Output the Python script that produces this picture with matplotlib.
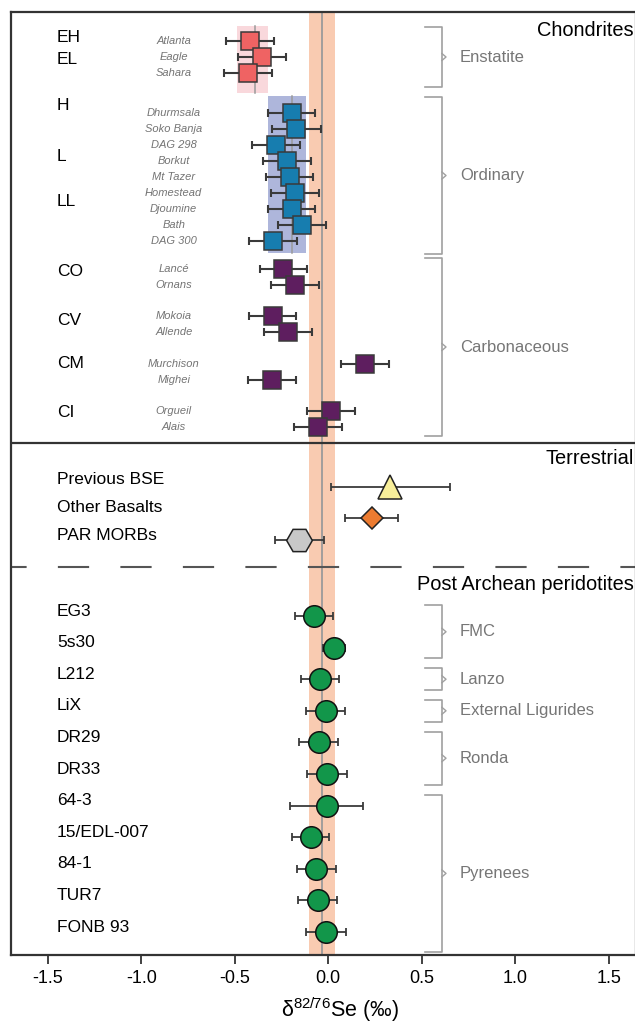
import numpy as np
import matplotlib
matplotlib.use("Agg")
import matplotlib.pyplot as plt

plt.rcParams['font.family'] = ['Liberation Sans', 'DejaVu Sans']
plt.rcParams['axes.unicode_minus'] = False
plt.rcParams['mathtext.fontset'] = 'custom'
plt.rcParams['mathtext.rm'] = 'Liberation Sans'

# --- data (d82/76Se, permil, value and 2sd) ---
enstatite_names = ['Atlanta', 'Eagle', 'Sahara']
enstatite_se = [-0.42, -0.355, -0.43]
enstatite_err = [0.128, 0.127, 0.128]

ordinary_names = ['Dhurmsala', 'Soko Banja', 'DAG 298', 'Borkut', 'Mt Tazer',
                  'Homestead', 'Djoumine', 'Bath', 'DAG 300']
ordinary_se = [-0.195, -0.17, -0.28, -0.22, -0.207, -0.178, -0.195, -0.14, -0.295]
ordinary_err = [0.126, 0.129, 0.128, 0.128, 0.127, 0.129, 0.127, 0.127, 0.127]

carbonaceous_names = ['Lancé', 'Ornans', 'Mokoia', 'Allende',
                      'Murchison', 'Mighei', 'Orgueil', 'Alais']
carbonaceous_se = [-0.24, -0.178, -0.296, -0.215, 0.195, -0.30, 0.016, -0.053]
carbonaceous_err = [0.127, 0.129, 0.126, 0.128, 0.128, 0.128, 0.129, 0.128]

class_labels = ['EH', 'EL', 'H', 'L', 'LL', 'CO', 'CV', 'CM', 'CI']

terrestrial_names = ['Previous BSE', 'Other Basalts', 'PAR MORBs']
terrestrial_se = [0.332, 0.232, -0.155]
terrestrial_err = [0.318, 0.14, 0.13]

peridotite_names = ['EG3', '5s30', 'L212', 'LiX', 'DR29', 'DR33', '64-3',
                    '15/EDL-007', '84-1', 'TUR7', 'FONB 93']
peridotite_se = [-0.076, 0.03, -0.044, -0.014, -0.05, -0.006, -0.008,
                 -0.094, -0.063, -0.056, -0.012]
peridotite_err = [0.10, 0.06, 0.103, 0.105, 0.105, 0.105, 0.196,
                  0.10, 0.105, 0.105, 0.107]
peridotite_groups = ['FMC', 'Lanzo', 'External Ligurides', 'Ronda', 'Pyrenees']
peridotite_group_sizes = [2, 1, 1, 2, 5]

# reference bands (mean and range)
bse_mean, bse_band = -0.035, (-0.103, 0.036)
enstatite_mean, enstatite_band = -0.393, (-0.488, -0.322)
ordinary_mean, ordinary_band = -0.192, (-0.322, -0.119)

# --- layout (vertical positions, arbitrary units growing downwards) ---
ROW = 16
chond_gaps = [0, 0, 0, 24, 0, 0, 0, 0, 0, 0, 0, 0, 12, 0, 15, 0, 16, 0, 15, 0]
chond_y = 41 + np.cumsum([0] + [ROW + g for g in chond_gaps[1:]])
class_rows = [-0.25, 1.15, 2.8, 5.7, 8.55, 12.15, 14.3, 16.0, 18.1]
class_y = np.interp(class_rows, np.arange(len(chond_y)), chond_y,
                    left=chond_y[0] - 4)
terr_y = 480 + 27.5 * np.arange(3)
perid_y = 616 + 31.6 * np.arange(len(peridotite_names))

n_e, n_o = len(enstatite_names), len(ordinary_names)
ens_y = chond_y[:n_e]
ord_y = chond_y[n_e:n_e + n_o]
carb_y = chond_y[n_e + n_o:]

fig = plt.figure(figsize=(6.35, 10.24), dpi=100)
ax = fig.add_axes([10.7 / 635, 69 / 1024, 625.3 / 635, 943.5 / 1024])
ax.set_xlim(-1.698, 1.646)
ax.set_ylim(955, 11.5)

# background bands
ax.axvspan(*bse_band, color='#F9CBB1', lw=0, zorder=0)
ax.axvline(bse_mean, color='#9a9a9a', lw=1.3, zorder=1)
ax.fill_betweenx([ens_y[0] - 15, ens_y[-1] + 20], *enstatite_band,
                 color='#F9D8DC', lw=0, zorder=0)
ax.plot([enstatite_mean] * 2, [ens_y[0] - 15, ens_y[-1] + 20], color='#9a9a9a', lw=1.1, zorder=1)
ax.fill_betweenx([ord_y[0] - 17, ord_y[-1] + 12], *ordinary_band,
                 color='#AEB6DB', lw=0, zorder=0)
ax.plot([ordinary_mean] * 2, [ord_y[0] - 17, ord_y[-1] + 12], color='#9a9a9a', lw=1.1, zorder=1)

# section separators
ax.axhline(443, color='#333333', lw=1.6, zorder=2)
ax.axhline(567, color='#555555', lw=1.5, ls=(7.5, (15, 15)), zorder=2)


def draw_points(x, y, err, marker, ms, color, edge='#3a3a3a', lw=1.5, cap=2.6):
    ax.errorbar(x, y, xerr=err, fmt='none', ecolor='#3a3a3a', elinewidth=lw,
                capsize=cap, capthick=lw, zorder=3)
    ax.plot(x, y, ls='none', marker=marker, ms=ms, mfc=color, mec=edge,
            mew=1.1, zorder=4)


draw_points(enstatite_se, ens_y, enstatite_err, 's', 13.5, '#EF6363')
draw_points(ordinary_se, ord_y, ordinary_err, 's', 13.5, '#177DAF')
draw_points(carbonaceous_se, carb_y, carbonaceous_err, 's', 13.5, '#5E1E5F')

terr_markers = [('^', 17, '#F8EF9A'), ('D', 11.7, '#EC7B30'), ('H', 18.5, '#C8C8C8')]
terr_marker_y = terr_y + np.array([7, 10, 5])
for i, (m, ms, c) in enumerate(terr_markers):
    draw_points([terrestrial_se[i]], [terr_marker_y[i]], [terrestrial_err[i]],
                m, ms, c, edge='#222222', lw=1.3, cap=3)

draw_points(peridotite_se, perid_y, peridotite_err, 'o', 15.5, '#12964A',
            edge='#111111', lw=1.3, cap=3)

# labels on the left
LEFT_X = -1.45
for lab, y in zip(class_labels, class_y):
    ax.text(LEFT_X, y, lab, fontsize=12.5, va='center', ha='left')
chond_names = enstatite_names + ordinary_names + carbonaceous_names
for name, y in zip(chond_names, chond_y):
    ax.text(-0.826, y, name, fontsize=8.0, style='italic', color='#747474',
            va='center', ha='center')
for name, y in zip(terrestrial_names, terr_y):
    ax.text(LEFT_X, y, name, fontsize=12.5, va='center', ha='left')
for name, y in zip(peridotite_names, perid_y - 5):
    ax.text(LEFT_X, y, name, fontsize=12.5, va='center', ha='left')

# section titles
ax.text(1.632, 31, 'Chondrites', fontsize=14.4, ha='right', va='center')
ax.text(1.632, 459, 'Terrestrial', fontsize=14.4, ha='right', va='center')
ax.text(1.632, 584, 'Post Archean peridotites', fontsize=14.4, ha='right', va='center')


def bracket(top, bottom, label):
    x0, x1, xt = 0.518, 0.608, 0.630
    mid = (top + bottom) / 2
    ax.plot([x0, x1, x1, x0], [top, top, bottom, bottom], color='#a0a0a0', lw=1.2, zorder=2)
    ax.plot([x1, xt, x1], [mid - 3.5, mid, mid + 3.5], color='#a0a0a0', lw=1.0, zorder=2)
    ax.text(0.704, mid, label, fontsize=12, color='#767676', va='center', ha='left')


bracket(ens_y[0] - 14, ens_y[-1] + 14, 'Enstatite')
bracket(ord_y[0] - 16, ord_y[-1] + 13, 'Ordinary')
bracket(carb_y[0] - 11, carb_y[-1] + 9, 'Carbonaceous')

start = 0
for grp, n in zip(peridotite_groups, peridotite_group_sizes):
    ys = perid_y[start:start + n]
    bottom = ys[-1] + (20 if start + n == len(perid_y) else 10.8)
    bracket(ys[0] - 10.8, bottom, grp)
    start += n

# axes styling
for side in ['left', 'top', 'bottom', 'right']:
    ax.spines[side].set_color('#333333')
    ax.spines[side].set_linewidth(1.6)
ax.set_yticks([])
ax.set_xticks([-1.5, -1.0, -0.5, 0.0, 0.5, 1.0, 1.5])
ax.set_xticklabels([f'{v:.1f}' for v in ax.get_xticks()])
ax.tick_params(axis='x', direction='out', length=6.5, width=1.3, color='#333333',
               labelsize=13, pad=4)
ax.set_xlabel(r'δ$^{\mathregular{82/76}}$Se (‰)', fontsize=15.5, labelpad=4)
ax.xaxis.set_label_coords(0.527, -0.043)

fig.savefig('out.png', dpi=100)
